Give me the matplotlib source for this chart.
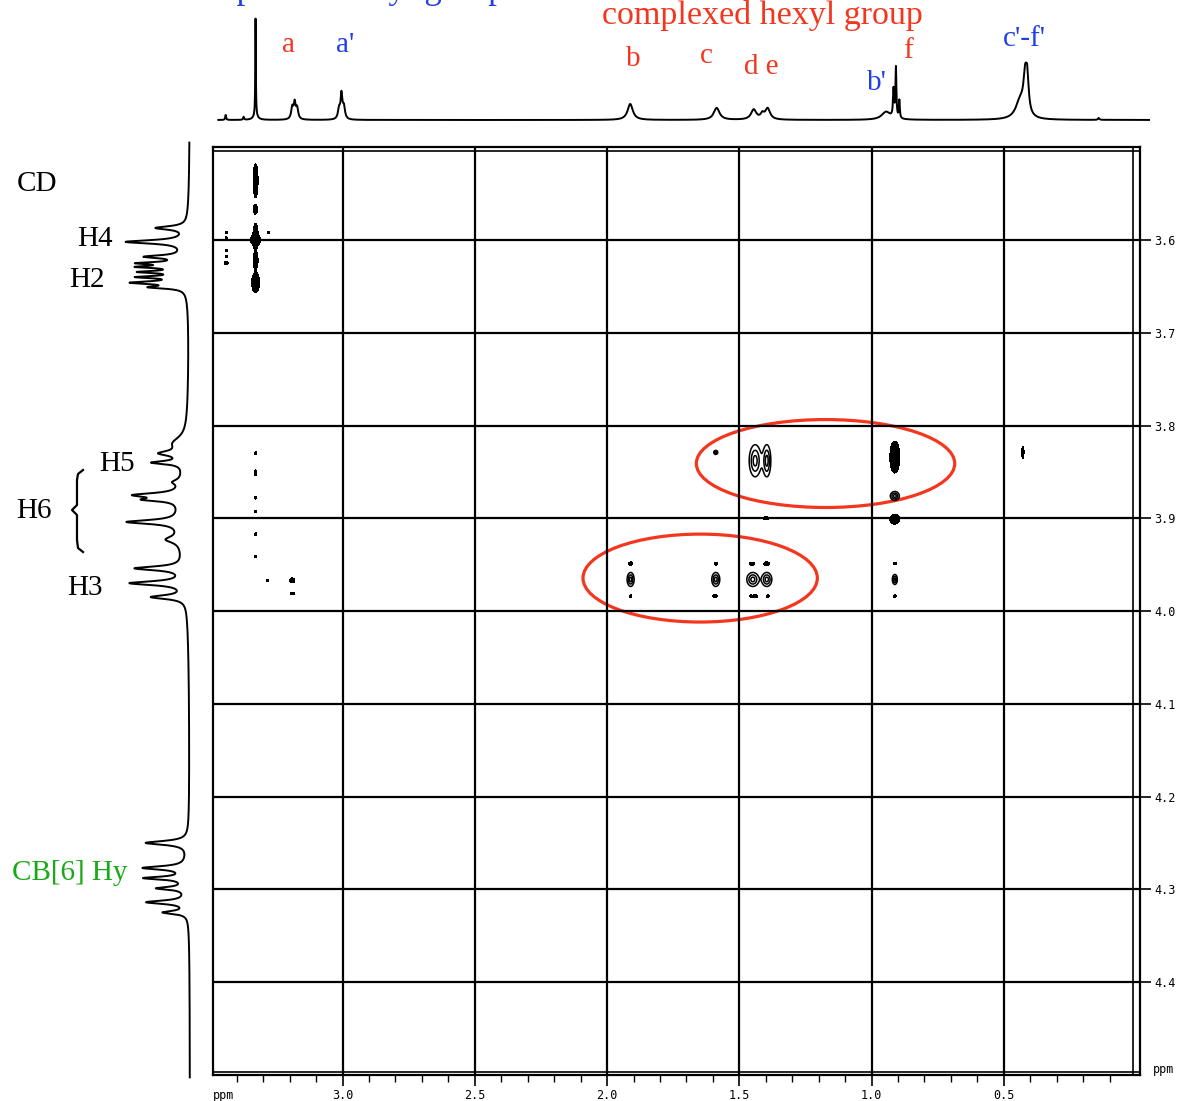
import numpy as np
import matplotlib
matplotlib.use('Agg')
import matplotlib.pyplot as plt
from matplotlib.patches import Ellipse

# ---- 1D projection on top (F2): ppm, height, half width
top_ppm = [3.442, 3.374, 3.329, 3.329, 3.190, 3.181, 3.172, 3.013, 3.004, 2.995,
           1.912, 1.585, 1.445, 1.412, 1.392, 0.944, 0.916, 0.907, 0.894,
           0.437, 0.418, 0.410, 0.140]
top_hgt = [5, 3, 98, 4, 12, 15, 11, 10, 24, 12,
           16, 12, 10, 5, 11, 8, 28, 50, 18,
           18, 36, 30, 2]
top_hw = [0.002, 0.002, 0.0012, 0.01, 0.005, 0.004, 0.005, 0.005, 0.004, 0.005,
          0.012, 0.013, 0.012, 0.008, 0.011, 0.02, 0.0025, 0.002, 0.002,
          0.02, 0.008, 0.006, 0.003]

# ---- 1D projection on the left (F1): ppm, depth, half width
left_ppm = [3.587, 3.602, 3.618, 3.625, 3.629, 3.6345, 3.640, 3.646, 3.651, 3.620,
            3.819, 3.830, 3.840, 3.861, 3.875, 3.880, 3.904, 3.923, 3.954, 3.970, 3.985, 3.900,
            4.250, 4.277, 4.288, 4.299, 4.314, 4.325, 4.287]
left_dep = [30, 58, 36, 40, 40, 40, 42, 50, 32, 6,
            12, 22, 30, 8, 44, 30, 52, 14, 48, 54, 34, 10,
            42, 42, 40, 28, 40, 24, 4]
left_hw = [0.0022, 0.0022, 0.0018, 0.0014, 0.0014, 0.0014, 0.0014, 0.0018, 0.0016, 0.03,
           0.008, 0.003, 0.002, 0.003, 0.0025, 0.002, 0.0025, 0.004, 0.0025, 0.0025, 0.0025, 0.06,
           0.0025, 0.0022, 0.0018, 0.0018, 0.0022, 0.002, 0.03]

# ---- 2D cross peaks: x ppm, y ppm, half width (px), half height (px)
solid_x = [3.329, 3.327, 3.332, 3.329, 3.329, 3.329, 3.329,
           3.440, 3.440, 3.440, 3.440, 3.440, 3.280,
           3.329, 3.329, 3.329, 3.329, 3.329, 3.329, 3.285, 3.190, 3.190,
           0.912, 0.912, 0.428, 1.400,
           1.911, 1.911, 1.589, 1.589, 1.595, 1.452, 1.396,
           1.455, 1.445, 1.435, 1.392, 0.912, 0.912]
solid_y = [3.536, 3.567, 3.567, 3.596, 3.600, 3.622, 3.646,
           3.592, 3.598, 3.611, 3.618, 3.625, 3.592,
           3.830, 3.851, 3.878, 3.893, 3.917, 3.941, 3.967, 3.967, 3.981,
           3.834, 3.901, 3.829, 3.900,
           3.949, 3.984, 3.949, 3.984, 3.984, 3.949, 3.949,
           3.984, 3.984, 3.984, 3.984, 3.949, 3.984]
solid_wx = [2.5, 1.3, 1.3, 2.5, 5, 2.5, 4,
            1.2, 1.2, 1.2, 1.2, 2, 1.2,
            1.2, 1.2, 1.2, 1.2, 1.2, 1.2, 1.2, 2.5, 2.2,
            5, 5, 1.2, 3,
            2, 1.3, 1.5, 1.3, 1.3, 2.5, 3,
            1.3, 1.3, 1.3, 1.3, 1.8, 1.3]
solid_wy = [17, 4, 4, 13, 5, 8, 10,
            1.2, 1.2, 1.2, 1.2, 1.6, 1.2,
            1.5, 3, 1.2, 1.2, 1.2, 1.2, 1.2, 2.5, 1.2,
            16, 5, 6, 1.5,
            1.8, 1.3, 1.5, 1.3, 1.3, 1.5, 1.8,
            1.3, 1.3, 1.3, 1.3, 1.3, 1.3]

line_x = [1.589, 1.440, 1.396, 0.912, 1.911, 1.589, 1.449, 1.396, 0.912]
line_y = [3.829, 3.838, 3.838, 3.876, 3.966, 3.966, 3.966, 3.966, 3.966]
line_wx = [2, 6, 4, 4.5, 3.5, 4, 6, 5, 2.5]
line_wy = [2, 16, 16, 4.5, 7, 7, 7, 7, 5]

top_labels = ['a', "a'", 'b', 'c', 'd e', "b'", 'f', "c'-f'"]
top_label_ppm = [3.204, 2.992, 1.899, 1.623, 1.415, 0.980, 0.863, 0.420]
top_label_h = [75, 75, 61, 64, 53, 37, 69, 81]
top_label_col = ['red', 'blue', 'red', 'red', 'red', 'blue', 'red', 'blue']

left_labels = ['CD', 'H4', 'H2', 'H5', 'H6', 'H3', 'CB[6] Hy']
left_label_ppm = [3.540, 3.599, 3.643, 3.841, 3.892, 3.975, 4.282]
left_label_px = [37, 95, 87, 117, 34, 85, 70]
left_label_col = ['black'] * 6 + ['green']

RED, BLUE, GREEN = '#f4361f', '#1f3fe8', '#18a818'
cmap = {'red': RED, 'blue': BLUE, 'green': GREEN, 'black': 'black'}
SERIF = ['Liberation Serif', 'DejaVu Serif']
MONO = 'DejaVu Sans Mono'

W, H = 1180, 1101
PXX, PXY = 264.4, 927.5   # pixels per ppm in x and y
fig = plt.figure(figsize=(W / 100, H / 100), dpi=100)


def frac(x0, y0, x1, y1):
    return [x0 / W, 1 - y1 / H, (x1 - x0) / W, (y1 - y0) / H]


def lorentz(grid, pos, amp, hw):
    out = np.zeros_like(grid)
    for p, a, w in zip(pos, amp, hw):
        out += a / (1 + ((grid - p) / w) ** 2)
    return out


def gauss2d(xg, yg, xs, ys, wxs, wys):
    z = np.zeros((len(yg), len(xg)))
    for x0, y0, wx, wy in zip(xs, ys, wxs, wys):
        sx = wx / PXX / 1.55
        sy = wy / PXY / 1.55
        gx = np.exp(-0.5 * ((xg - x0) / sx) ** 2)
        gy = np.exp(-0.5 * ((yg - y0) / sy) ** 2)
        z += np.outer(gy, gx)
    return z


# ---------------- main 2D panel
ax = fig.add_axes(frac(213, 147.25, 1140, 1074.75))
ax.set_xlim(3.49, -0.015)
ax.set_ylim(4.5, 3.5)

xg = np.arange(-0.015, 3.49, 0.0018)
yg = np.arange(3.5, 4.5, 0.0005)
zs = gauss2d(xg, yg, solid_x, solid_y, solid_wx, solid_wy)
zl = gauss2d(xg, yg, line_x, line_y, line_wx, line_wy)
ax.contourf(xg, yg, zs, levels=[0.3, 1e3], colors='black')
ax.contour(xg, yg, zl, levels=[0.3, 0.6, 0.88], colors='black', linewidths=1.1)

ax.set_xticks([3.0, 2.5, 2.0, 1.5, 1.0, 0.5])
ax.set_xticks(np.arange(0.1, 3.45, 0.1), minor=True)
ax.set_yticks(np.round(np.arange(3.6, 4.45, 0.1), 1))
ax.grid(True, color='black', linewidth=1.6)
ax.yaxis.tick_right()
ax.tick_params(axis='both', which='major', direction='out', length=8, width=1.2,
               labelsize=8.5, labelfontfamily=MONO, pad=2)
ax.tick_params(axis='x', which='minor', direction='out', length=5, width=1)
for s in ax.spines.values():
    s.set_linewidth(1.6)
ax.axhline(3.504, color='black', lw=1.2)
ax.axhline(4.497, color='black', lw=1.2)
ax.axvline(0.012, color='black', lw=1.2)
ax.text(3.45, -0.022, 'ppm', transform=ax.get_xaxis_transform(), fontsize=8.5,
        family=MONO, ha='center', va='center')
ax.text(1.025, 4.494, 'ppm', transform=ax.get_yaxis_transform(), fontsize=8.5,
        family=MONO, ha='center', va='center')

ax.add_patch(Ellipse((1.174, 3.841), 0.977, 0.0948, fill=False, ec=RED, lw=2.3))
ax.add_patch(Ellipse((1.648, 3.9645), 0.886, 0.0948, fill=False, ec=RED, lw=2.3))

# ---------------- top 1D spectrum
axt = fig.add_axes(frac(213, 0, 1150, 125))
axt.set_xlim(3.49, 3.49 - 937 / PXX)
axt.set_ylim(-5, 120)
xs = np.arange(-0.054, 3.47, 0.0003)
axt.plot(xs, lorentz(xs, top_ppm, top_hgt, top_hw), color='black', lw=1.4)
axt.axis('off')
for t, p, h, c in zip(top_labels, top_label_ppm, top_label_h, top_label_col):
    axt.text(p, h, t, color=cmap[c], fontsize=21, family=SERIF, ha='center', va='center')
axt.text(1.411, 96, 'complexed hexyl group', color=RED, fontsize=24.5, family=SERIF,
         ha='center', va='baseline')
axt.text(3.07, 122, 'uncomplexed hexyl group', color=BLUE, fontsize=25, family=SERIF,
         ha='center', va='baseline')

# ---------------- left 1D spectrum
axl = fig.add_axes(frac(95, 147.25, 200, 1074.75))
axl.set_xlim(95, -10)
axl.set_ylim(4.5, 3.5)
ys = np.arange(3.495, 4.503, 0.0002)
axl.plot(lorentz(ys, left_ppm, left_dep, left_hw), ys, color='black', lw=1.4, clip_on=False)
axl.axis('off')
for t, p, x, c in zip(left_labels, left_label_ppm, left_label_px, left_label_col):
    axl.text(190 - x, p, t, color=cmap[c], fontsize=21, family=SERIF, ha='center', va='center')

# brace for H6
bx = 190 - np.array([83, 78, 77, 77, 72, 77, 77, 78, 83])
by = 3.6 + (np.array([470, 474, 480, 505, 510, 515, 540, 548, 552]) - 240) / PXY
axl.plot(bx, by, color='black', lw=1.6, clip_on=False)

plt.savefig('out.png', dpi=100)
